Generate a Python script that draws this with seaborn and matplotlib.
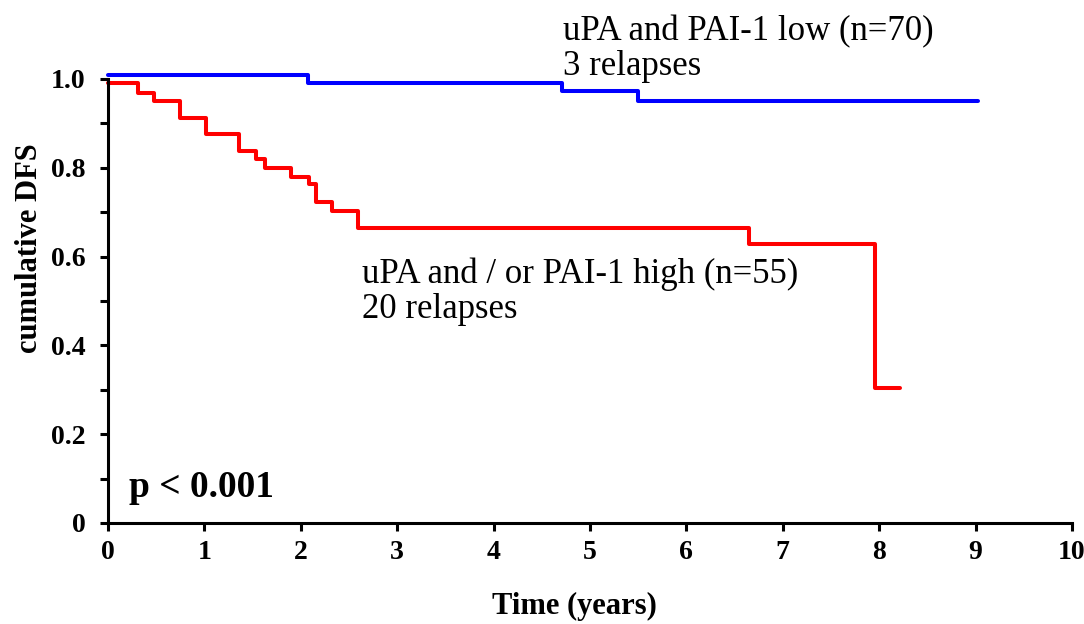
import seaborn as sns
import pandas as pd
import matplotlib.pyplot as plt
from matplotlib.ticker import MultipleLocator

# Kaplan-Meier step points (time in years, cumulative DFS)
low_time = [0, 2.07, 4.71, 5.50, 9.03]
low_dfs = [1.008, 0.990, 0.973, 0.950, 0.950]

high_time = [0, 0.31, 0.48, 0.75, 1.02, 1.36, 1.54, 1.63, 1.90, 2.08, 2.16,
             2.32, 2.59, 6.65, 7.96, 8.22]
high_dfs = [0.991, 0.968, 0.950, 0.912, 0.876, 0.838, 0.820, 0.800, 0.780,
            0.763, 0.723, 0.703, 0.664, 0.628, 0.304, 0.304]

x_ticks = list(range(0, 11))
y_ticks = [0, 0.2, 0.4, 0.6, 0.8, 1.0]
y_tick_labels = ["0", "0.2", "0.4", "0.6", "0.8", "1.0"]

sns.set_style("ticks")
plt.rcParams['font.family'] = ['Liberation Serif', 'DejaVu Serif']
plt.rcParams['text.color'] = 'black'
plt.rcParams['axes.labelcolor'] = 'black'
plt.rcParams['xtick.color'] = 'black'
plt.rcParams['ytick.color'] = 'black'
plt.rcParams['axes.edgecolor'] = 'black'

df = pd.concat([
    pd.DataFrame({"time": low_time, "dfs": low_dfs, "group": "low"}),
    pd.DataFrame({"time": high_time, "dfs": high_dfs, "group": "high"}),
])

fig = plt.figure(figsize=(10.84, 6.24), dpi=100)
ax = fig.add_axes([108 / 1084, 1 - 523 / 624, (1072 - 108) / 1084, (523 - 79) / 624])

for grp, col in [("low", "#0000ff"), ("high", "#ff0000")]:
    sns.lineplot(data=df[df.group == grp], x="time", y="dfs", ax=ax,
                 estimator=None, sort=False, drawstyle="steps-post",
                 color=col, linewidth=2.9, clip_on=False)

ax.set_xlim(0, 10)
ax.set_ylim(0, 1.0)
ax.set_xticks(x_ticks)
ax.set_yticks(y_ticks)
ax.set_yticklabels(y_tick_labels)
ax.yaxis.set_minor_locator(MultipleLocator(0.1))

for s in ["top", "right"]:
    ax.spines[s].set_visible(False)
for s in ["left", "bottom"]:
    ax.spines[s].set_linewidth(2.2)

ax.tick_params(axis="both", which="major", length=6, width=2.2, labelsize=20, pad=6)
ax.tick_params(axis="y", which="minor", length=6, width=2.2)
ax.tick_params(axis="y", pad=10)
for lbl in ax.get_xticklabels() + ax.get_yticklabels():
    lbl.set_fontweight("bold")

ax.set_xlabel("Time (years)", fontsize=22, fontweight="bold")
ax.xaxis.label.set_va("center")
ax.xaxis.set_label_coords(0.484, -0.187)
ax.set_ylabel("cumulative DFS", fontsize=22, fontweight="bold")
ax.yaxis.label.set_va("center")
ax.yaxis.set_label_coords(-0.081, 0.619)

ax.text(4.72, 1.088, "uPA and PAI-1 low (n=70)", fontsize=25, va="baseline")
ax.text(4.72, 1.009, "3 relapses", fontsize=25, va="baseline")
ax.text(2.64, 0.541, "uPA and / or PAI-1 high (n=55)", fontsize=25, va="baseline")
ax.text(2.64, 0.462, "20 relapses", fontsize=25, va="baseline")
ax.text(0.22, 0.059, "p < 0.001", fontsize=27, fontweight="bold", va="baseline")

fig.savefig("out.png", dpi=100)
